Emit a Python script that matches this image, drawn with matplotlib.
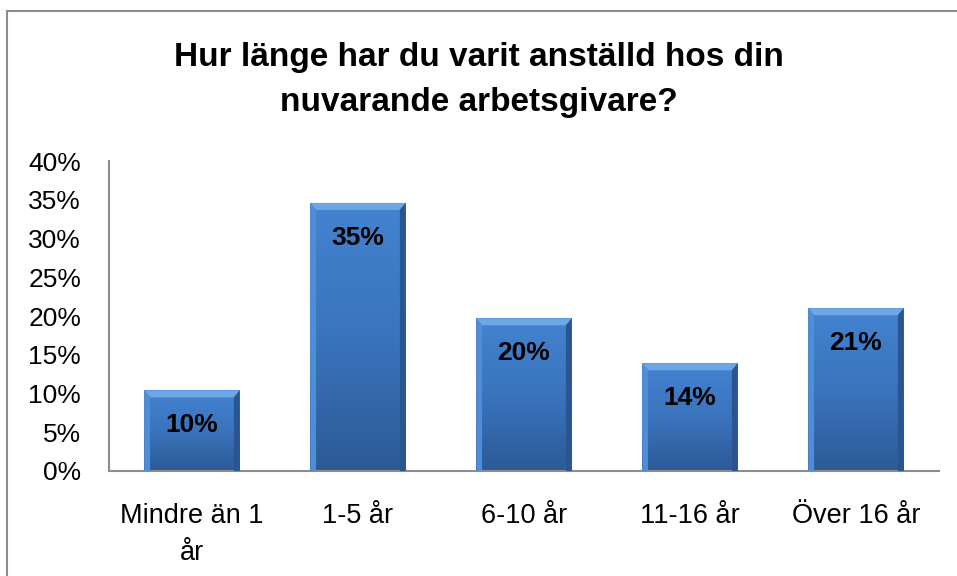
import numpy as np
import matplotlib.pyplot as plt
from matplotlib.patches import Rectangle, Polygon
from matplotlib.colors import LinearSegmentedColormap
from matplotlib.ticker import PercentFormatter

plt.rcParams['font.family'] = ['Liberation Sans', 'DejaVu Sans']

categories = ['Mindre än 1\når', '1-5 år', '6-10 år', '11-16 år', 'Över 16 år']
values = [10.4, 34.6, 19.7, 13.9, 21.0]
labels = ['10%', '35%', '20%', '14%', '21%']
title = 'Hur länge har du varit anställd hos din\nnuvarande arbetsgivare?'

fig = plt.figure(figsize=(9.57, 5.76), dpi=100)
# outer chart frame
fig.patches.append(Rectangle((7 / 957, -0.01), 1.0, 1 - 11 / 576 + 0.01,
                             transform=fig.transFigure, fill=False,
                             edgecolor='#8c8c8c', linewidth=1.5))

ax = fig.add_axes([109 / 957, 105 / 576, 830 / 957, 310 / 576])
x = np.arange(len(categories))
width = 0.575

cmap = LinearSegmentedColormap.from_list('bar', ['#2c5a96', '#3a74bd', '#4383d0'])
grad = np.linspace(0, 1, 256).reshape(-1, 1)

bars = ax.bar(x, values, width=width, color='none', edgecolor='none', zorder=2)
for b in bars:
    x0, y0 = b.get_x(), b.get_y()
    w, h = b.get_width(), b.get_height()
    im = ax.imshow(grad, cmap=cmap, aspect='auto', origin='lower',
                   extent=(x0, x0 + w, y0, y0 + h), zorder=2)
    im.set_clip_path(b)
    # bevel edges
    bx, by = 0.035, 0.9
    top = y0 + h
    ax.add_patch(Polygon([(x0, top), (x0 + w, top), (x0 + w - bx, top - by),
                          (x0 + bx, top - by)], closed=True,
                         facecolor='#6fa6e6', edgecolor='none', zorder=3))
    ax.add_patch(Polygon([(x0, y0), (x0, top), (x0 + bx, top - by),
                          (x0 + bx, y0)], closed=True,
                         facecolor='#4f8ed6', edgecolor='none', zorder=3))
    ax.add_patch(Polygon([(x0 + w, y0), (x0 + w, top), (x0 + w - bx, top - by),
                          (x0 + w - bx, y0)], closed=True,
                         facecolor='#2a5590', edgecolor='none', zorder=3))

for xi, v, lab in zip(x, values, labels):
    ax.annotate(lab, (xi, v), xytext=(0, -25), textcoords='offset points',
                ha='center', va='center', fontsize=19, fontweight='bold',
                color='black', zorder=4)

ax.set_xlim(-0.5, len(categories) - 0.5)
ax.set_ylim(0, 40)
ax.set_yticks(np.arange(0, 41, 5))
ax.yaxis.set_major_formatter(PercentFormatter(decimals=0))
ax.set_xticks(x)
ax.set_xticklabels(categories, fontsize=19.5, linespacing=1.55)
ax.tick_params(axis='y', labelsize=19, length=0, pad=20)
ax.tick_params(axis='x', length=0, pad=23)
for s in ['top', 'right']:
    ax.spines[s].set_visible(False)
for s in ['left', 'bottom']:
    ax.spines[s].set_color('#8c8c8c')
    ax.spines[s].set_linewidth(1.5)

fig.text(0.5, 1 - 80 / 576, title, ha='center', va='center', fontsize=24,
         fontweight='bold', linespacing=1.55)

fig.savefig('out.png', dpi=100)
